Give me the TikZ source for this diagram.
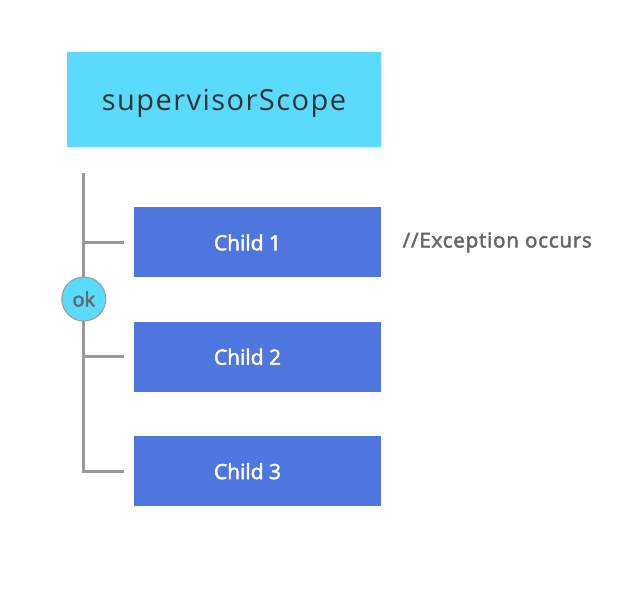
\documentclass[tikz,border=0pt]{standalone}
\usepackage{fontspec}
\setmainfont{Open Sans}
\newfontfamily\semibold{Open Sans}[FakeBold=2.5]
\newfontfamily\semiboldwide{Open Sans}[FakeBold=2.5, LetterSpace=4]
\newfontfamily\spaced{Open Sans}[LetterSpace=5]
\usepackage{tikz}
\usetikzlibrary{positioning}
\definecolor{scopecyan}{HTML}{5ADBFE}
\definecolor{childblue}{HTML}{4F75DE}
\definecolor{busgray}{HTML}{999999}
\definecolor{notegray}{HTML}{666666}
\definecolor{titlegray}{HTML}{333333}

\begin{document}
\begin{tikzpicture}[scopebox/.style={fill=scopecyan, minimum width=314pt, minimum height=95pt,
                      text=titlegray, text depth=0pt, font=\spaced\fontsize{29}{32}\selectfont},
                    childbox/.style={fill=childblue, minimum width=247pt, minimum height=70pt,
                      text=white, font=\semibold\fontsize{21}{23}\selectfont,
                      execute at end node=\hspace*{20pt}},
                    bus/.style={draw=busgray, line width=3pt},
                    okdot/.style={circle, draw=busgray, line width=1pt, fill=scopecyan,
                      minimum size=44pt, inner sep=0pt, text=notegray,
                      font=\semibold\fontsize{20}{22}\selectfont}]
  \useasboundingbox (0,0) rectangle (622pt,-593pt);
  \node[scopebox] (root) at (224pt,-99.5pt) {supervisorScope};
  \node[childbox, below right=60pt and 67pt of root.south west] (child1) {Child 1};
  \node[childbox, below=44pt of child1] (child2) {Child 2};
  \node[childbox, below=44pt of child2] (child3) {Child 3};
  \node[anchor=west, text=notegray, font=\semiboldwide\fontsize{20.5}{22}\selectfont]
    (note) at ([xshift=18pt]child1.east) {//Exception occurs};
  \coordinate[below right=26pt and 17pt of root.south west] (bustop);
  % bus with the three branches
  \draw[bus] (bustop) |- ([xshift=-10pt]child3.west);
  \draw[bus] (bustop |- child1.west) -- ([xshift=-10pt]child1.west);
  \draw[bus] (bustop |- child2.west) -- ([xshift=-10pt]child2.west);
  \node[okdot] (ok) at (bustop |- 0,-299pt) {ok};
\end{tikzpicture}
\end{document}
